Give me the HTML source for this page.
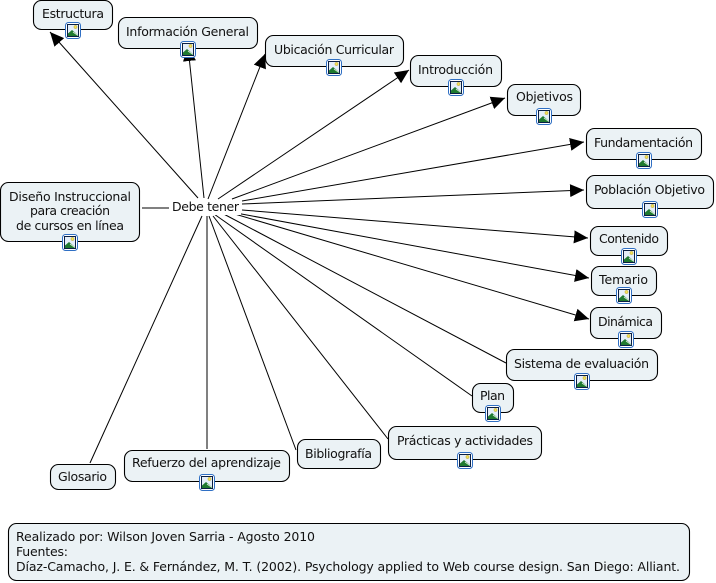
<!DOCTYPE html>
<html>
<head>
<meta charset="utf-8">
<style>
html,body{margin:0;padding:0;background:#fff;}
svg{display:block;}
text{font-family:"DejaVu Sans","Liberation Sans",sans-serif;font-size:12.5px;fill:#111;}
.b{fill:#ebf2f5;stroke:#000;stroke-width:1.1;}
.l{stroke:#000;stroke-width:1;fill:none;}
</style>
</head>
<body>
<svg width="716" height="583" viewBox="0 0 716 583" xmlns="http://www.w3.org/2000/svg">
<defs>
<marker id="a" markerUnits="userSpaceOnUse" markerWidth="16" markerHeight="16" refX="14" refY="7" orient="auto">
<path d="M0 0.5L14 7L0 13.5Z" fill="#000"/>
</marker>
<symbol id="i" viewBox="0 0 16 17" width="16" height="17">
<rect x="0.5" y="0.5" width="15" height="16" rx="3" fill="#fff" stroke="#2f6fc4"/>
<rect x="2.5" y="2.5" width="11" height="12" fill="#e4eef9" stroke="#0a1f44"/>
<path d="M3 14L3 11.5L7 8L13 13L13 14Z" fill="#1f7a30"/>
<path d="M8 10L13 13.5" stroke="#cfe8d0" stroke-width="1"/>
<circle cx="10.5" cy="5" r="1.6" fill="#f2e05a" stroke="#b9a030" stroke-width=".5"/>
</symbol>
</defs>

<g class="l">
<line x1="198" y1="198" x2="50" y2="32" marker-end="url(#a)"/>
<line x1="204" y1="198" x2="188" y2="47" marker-end="url(#a)"/>
<line x1="208" y1="199" x2="265" y2="54" marker-end="url(#a)"/>
<line x1="218" y1="199" x2="409" y2="70" marker-end="url(#a)"/>
<line x1="232" y1="199" x2="505" y2="98" marker-end="url(#a)"/>
<line x1="242" y1="201" x2="584" y2="142" marker-end="url(#a)"/>
<line x1="242" y1="204" x2="584" y2="190" marker-end="url(#a)"/>
<line x1="242" y1="210" x2="588" y2="238" marker-end="url(#a)"/>
<line x1="236" y1="213" x2="589" y2="278" marker-end="url(#a)"/>
<line x1="228" y1="212" x2="589" y2="319" marker-end="url(#a)"/>
<line x1="218" y1="211" x2="506" y2="363"/>
<line x1="214" y1="214" x2="472" y2="396"/>
<line x1="213" y1="216" x2="388" y2="439"/>
<line x1="209" y1="216" x2="296" y2="450"/>
<line x1="207" y1="216" x2="207" y2="449"/>
<line x1="202" y1="216" x2="90" y2="463"/>
<line x1="142" y1="208" x2="169" y2="208"/>
</g>
<rect x="169" y="200" width="72" height="15" fill="#fff"/>

<rect class="b" x="33.5" y="0.5" width="79" height="29" rx="8"/>
<rect class="b" x="118.5" y="17.5" width="139" height="31" rx="8"/>
<rect class="b" x="265.5" y="35.5" width="138" height="31" rx="8"/>
<rect class="b" x="410.5" y="55.5" width="91" height="31" rx="8"/>
<rect class="b" x="507.5" y="84.5" width="73" height="31" rx="8"/>
<rect class="b" x="586.5" y="128.5" width="115" height="31" rx="8"/>
<rect class="b" x="586.5" y="175.5" width="127" height="33" rx="8"/>
<rect class="b" x="590.5" y="226.5" width="77" height="29" rx="8"/>
<rect class="b" x="591.5" y="266.5" width="65" height="29" rx="8"/>
<rect class="b" x="590.5" y="307.5" width="71" height="31" rx="8"/>
<rect class="b" x="506.5" y="349.5" width="151" height="31" rx="8"/>
<rect class="b" x="472.5" y="383.5" width="41" height="29" rx="8"/>
<rect class="b" x="388.5" y="426.5" width="153" height="33" rx="8"/>
<rect class="b" x="297.5" y="439.5" width="83" height="29" rx="8"/>
<rect class="b" x="124.5" y="450.5" width="165" height="31" rx="8"/>
<rect class="b" x="50.5" y="464.5" width="65" height="25" rx="8"/>
<rect class="b" x="0.5" y="182.5" width="139" height="59" rx="8"/>
<rect class="b" x="8.5" y="523.5" width="681" height="57" rx="8"/>

<use href="#i" x="65" y="22"/>
<use href="#i" x="180" y="41"/>
<use href="#i" x="326" y="59"/>
<use href="#i" x="448" y="79"/>
<use href="#i" x="536" y="108"/>
<use href="#i" x="636" y="152"/>
<use href="#i" x="642" y="201"/>
<use href="#i" x="621" y="248"/>
<use href="#i" x="616" y="287"/>
<use href="#i" x="618" y="331"/>
<use href="#i" x="574" y="373"/>
<use href="#i" x="485" y="405"/>
<use href="#i" x="457" y="452"/>
<use href="#i" x="199" y="474"/>
<use href="#i" x="62" y="234"/>

<text x="42" y="18" textLength="62">Estructura</text>
<text x="126" y="36" textLength="123">Información General</text>
<text x="274" y="54" textLength="120">Ubicación Curricular</text>
<text x="418" y="74" textLength="75">Introducción</text>
<text x="516" y="101" textLength="57">Objetivos</text>
<text x="594" y="147" textLength="99">Fundamentación</text>
<text x="594" y="194" textLength="111">Población Objetivo</text>
<text x="599" y="243" textLength="60">Contenido</text>
<text x="599" y="284" textLength="49">Temario</text>
<text x="598" y="326" textLength="55">Dinámica</text>
<text x="514" y="368" textLength="135">Sistema de evaluación</text>
<text x="480" y="400" textLength="25">Plan</text>
<text x="397" y="445" textLength="136">Prácticas y actividades</text>
<text x="305" y="458" textLength="67">Bibliografía</text>
<text x="132" y="467" textLength="149">Refuerzo del aprendizaje</text>
<text x="58" y="481" textLength="49">Glosario</text>
<text x="9" y="201" textLength="122">Diseño Instruccional</text>
<text x="30" y="215" textLength="80">para creación</text>
<text x="16" y="230" textLength="108">de cursos en línea</text>
<text x="172" y="211" textLength="67">Debe tener</text>
<text x="16" y="541" textLength="299">Realizado por: Wilson Joven Sarria - Agosto 2010</text>
<text x="16" y="556" textLength="52">Fuentes:</text>
<text x="16" y="571" textLength="664">Díaz-Camacho, J. E. &amp; Fernández, M. T. (2002). Psychology applied to Web course design. San Diego: Alliant.</text>
</svg>
</body>
</html>
